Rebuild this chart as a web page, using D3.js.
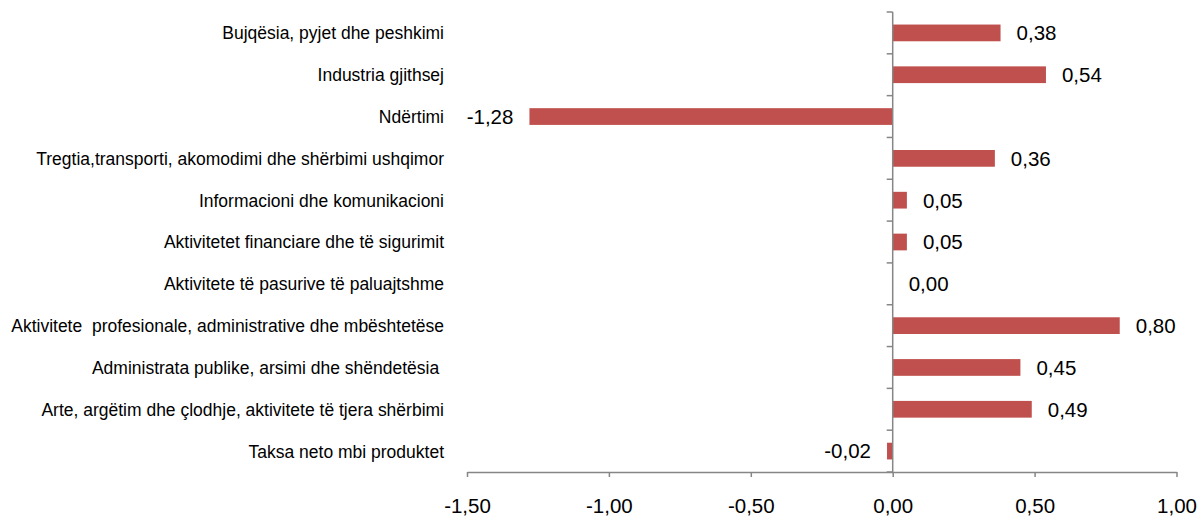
<!DOCTYPE html>
<html lang="sq">
<head>
    <meta charset="UTF-8">
    <script src="https://d3js.org/d3.v7.min.js"></script>
    <title>Kontributi sipas aktiviteteve</title>
    <style>
        body { margin: 0; background: #fff; }
        text { font-family: "Liberation Sans", Arial, sans-serif; fill: #000; }
    </style>
</head>
<body>
<div id="vis"></div>
<script>
    // data
    var categories = [
        "Bujqësia, pyjet dhe peshkimi",
        "Industria gjithsej",
        "Ndërtimi",
        "Tregtia,transporti, akomodimi dhe shërbimi ushqimor",
        "Informacioni dhe komunikacioni",
        "Aktivitetet financiare dhe të sigurimit",
        "Aktivitete të pasurive të paluajtshme",
        "Aktivitete  profesionale, administrative dhe mbështetëse",
        "Administrata publike, arsimi dhe shëndetësia ",
        "Arte, argëtim dhe çlodhje, aktivitete të tjera shërbimi",
        "Taksa neto mbi produktet"
    ];
    var values = [0.38, 0.54, -1.28, 0.36, 0.05, 0.05, 0.00, 0.80, 0.45, 0.49, -0.02];
    var xTicks = [-1.5, -1.0, -0.5, 0, 0.5, 1.0];

    var width = 1199, height = 518,
        svg = d3.select("#vis").append("svg").attr("width", width).attr("height", height),
        axisColor = "#868686",
        barColor = "#C0504D";

    var loc = d3.formatLocale({decimal: ",", thousands: ".", grouping: [3], currency: ["", "€"], minus: "-"}),
        fmt = loc.format(".2f");

    var x = d3.scaleLinear().domain([-1.5, 1.0]).range([467, 1176.5]),
        y = d3.scaleBand().domain(categories).range([12, 472]).paddingInner(0.6).paddingOuter(0.3);

    // bars
    svg.append("g").selectAll("rect").data(values).enter().append("rect")
        .attr("x", function(d){ return x(Math.min(0, d)); })
        .attr("y", function(d, i){ return y(categories[i]); })
        .attr("width", function(d){ return Math.abs(x(d) - x(0)); })
        .attr("height", y.bandwidth())
        .attr("fill", barColor);

    // x axis at the bottom
    var xAxis = d3.axisBottom(x).tickValues(xTicks).tickFormat(fmt).tickSize(5).tickPadding(21).tickSizeOuter(0);
    var gx = svg.append("g").attr("transform", "translate(0," + y.range()[1] + ")").call(xAxis);
    gx.select(".domain").attr("stroke", axisColor).attr("stroke-width", 1.5);
    gx.selectAll(".tick line").attr("stroke", axisColor).attr("stroke-width", 1.5);
    gx.selectAll(".tick text").attr("font-size", 20.5).attr("font-family", "Liberation Sans, Arial, sans-serif").attr("fill", "#000");

    // category axis on zero line, ticks between categories
    var gy = svg.append("g");
    gy.append("line")
        .attr("x1", x(0)).attr("x2", x(0))
        .attr("y1", y.range()[0]).attr("y2", y.range()[1])
        .attr("stroke", axisColor).attr("stroke-width", 1.5);
    var bounds = d3.range(categories.length + 1).map(function(i){ return y.range()[0] + i * y.step(); });
    gy.selectAll("line.t").data(bounds).enter().append("line").attr("class", "t")
        .attr("x1", x(0) - 6).attr("x2", x(0))
        .attr("y1", function(d){ return d; }).attr("y2", function(d){ return d; })
        .attr("stroke", axisColor).attr("stroke-width", 1.5);

    // category labels, right aligned, narrow face
    var labelRight = 444;
    var labels = svg.append("g").selectAll("g").data(categories).enter().append("g");
    var lt = labels.append("text")
        .attr("text-anchor", "end")
        .attr("dy", "0.35em")
        .attr("font-size", 18.5)
        .style("white-space", "pre")
        .style("font-family", "'Liberation Sans Narrow', 'Liberation Sans', Arial, sans-serif")
        .text(function(d){ return d; });
    var longest = lt.filter(function(d, i){ return i === 7; }).node().getComputedTextLength();
    var k = 433 / longest;
    labels.attr("transform", function(d){
        return "translate(" + labelRight + "," + (y(d) + y.bandwidth() / 2) + ") scale(" + k + ",1)";
    });

    // value labels
    svg.append("g").selectAll("text").data(values).enter().append("text")
        .attr("x", function(d){ return d < 0 ? x(d) - 16 : x(d) + 16; })
        .attr("y", function(d, i){ return y(categories[i]) + y.bandwidth() / 2; })
        .attr("dy", "0.36em")
        .attr("text-anchor", function(d){ return d < 0 ? "end" : "start"; })
        .attr("font-size", 20.5)
        .text(function(d){ return fmt(d); });
</script>
</body>
</html>
